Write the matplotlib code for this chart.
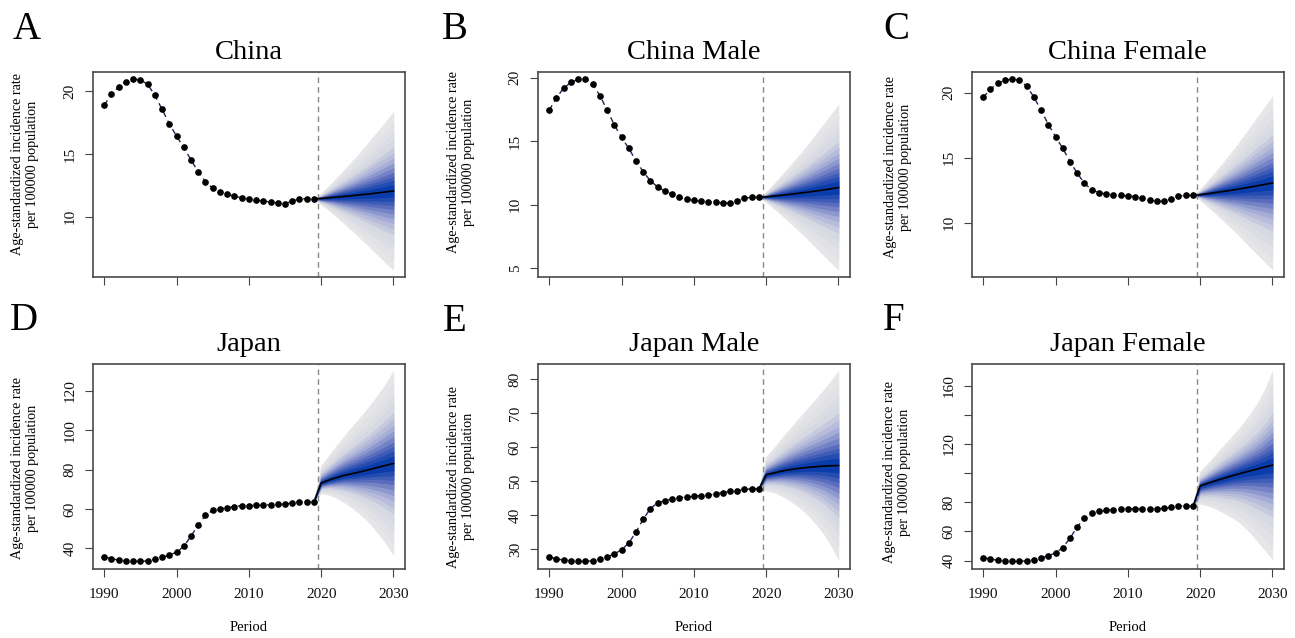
import numpy as np
import matplotlib.pyplot as plt
from matplotlib.colors import LinearSegmentedColormap
from statistics import NormalDist

plt.rcParams['font.family'] = ['Liberation Serif', 'DejaVu Serif']

# observed years and projection years
obs_years = list(range(1990, 2020))
fc_years = list(range(2020, 2031))

# A: China
china_obs = [18.88, 19.73, 20.35, 20.74, 20.93, 20.90, 20.53, 19.65, 18.54, 17.39,
             16.41, 15.51, 14.52, 13.56, 12.79, 12.26, 11.99, 11.81, 11.62, 11.52,
             11.41, 11.33, 11.25, 11.17, 11.09, 11.04, 11.25, 11.41, 11.44, 11.41]
china_mean = [11.46, 11.51, 11.56, 11.61, 11.66, 11.72, 11.78, 11.84, 11.91, 11.98, 12.05]
china_upper = [11.84, 12.42, 13.01, 13.62, 14.23, 14.87, 15.53, 16.23, 16.92, 17.61, 18.33]
china_lower = [10.98, 10.55, 10.06, 9.55, 9.05, 8.52, 7.98, 7.42, 6.86, 6.30, 5.80]

# B: China Male
cmale_obs = [17.45, 18.43, 19.18, 19.63, 19.87, 19.87, 19.50, 18.59, 17.45, 16.28,
             15.30, 14.43, 13.47, 12.59, 11.88, 11.40, 11.08, 10.82, 10.58, 10.42,
             10.34, 10.27, 10.20, 10.18, 10.15, 10.13, 10.31, 10.52, 10.58, 10.58]
cmale_mean = [10.62, 10.68, 10.74, 10.80, 10.87, 10.94, 11.01, 11.09, 11.17, 11.26, 11.35]
cmale_upper = [11.01, 11.62, 12.24, 12.88, 13.54, 14.19, 14.91, 15.64, 16.37, 17.11, 17.85]
cmale_lower = [10.23, 9.74, 9.26, 8.74, 8.23, 7.71, 7.14, 6.57, 6.01, 5.45, 4.90]

# C: China Female
cfem_obs = [19.64, 20.28, 20.72, 20.96, 21.03, 20.96, 20.52, 19.66, 18.66, 17.55,
            16.61, 15.71, 14.70, 13.80, 13.02, 12.51, 12.30, 12.20, 12.14, 12.09,
            12.07, 11.99, 11.86, 11.73, 11.65, 11.63, 11.83, 12.04, 12.09, 12.09]
cfem_mean = [12.15, 12.22, 12.30, 12.38, 12.46, 12.55, 12.64, 12.74, 12.84, 12.94, 13.05]
cfem_upper = [12.55, 13.19, 13.83, 14.51, 15.19, 15.89, 16.64, 17.41, 18.18, 18.94, 19.72]
cfem_lower = [11.75, 11.25, 10.77, 10.25, 9.73, 9.21, 8.64, 8.07, 7.50, 6.94, 6.38]

# D: Japan
japan_obs = [35.8, 34.7, 34.1, 33.7, 33.6, 33.4, 33.7, 34.4, 35.4, 36.6,
             38.1, 41.0, 46.3, 51.9, 56.8, 59.3, 60.0, 60.7, 61.2, 61.7,
             61.7, 61.9, 61.9, 62.2, 62.4, 62.5, 63.1, 63.4, 63.6, 63.6]
japan_mean = [73.2, 74.6, 75.8, 76.9, 77.7, 78.5, 79.4, 80.3, 81.3, 82.2, 83.1]
japan_upper = [82.0, 86.8, 91.5, 96.1, 100.7, 104.8, 109.2, 113.8, 118.6, 124.0, 130.0]
japan_lower = [68.1, 67.3, 65.8, 63.8, 61.4, 58.6, 55.4, 51.6, 47.1, 42.2, 36.8]

# E: Japan Male
jmale_obs = [27.8, 27.2, 26.9, 26.7, 26.5, 26.5, 26.7, 27.2, 27.8, 28.7,
             29.9, 31.9, 35.1, 38.9, 42.0, 43.7, 44.3, 44.8, 45.2, 45.4,
             45.6, 45.8, 45.9, 46.3, 46.7, 47.0, 47.2, 47.6, 47.8, 47.8]
jmale_mean = [51.9, 52.4, 52.9, 53.3, 53.6, 53.9, 54.1, 54.3, 54.45, 54.55, 54.6]
jmale_upper = [57.2, 59.6, 62.2, 64.7, 67.2, 69.6, 72.0, 74.4, 76.9, 79.5, 82.3]
jmale_lower = [47.3, 46.8, 45.9, 44.7, 43.3, 41.6, 39.6, 37.2, 34.5, 31.0, 27.1]

# F: Japan Female
jfem_obs = [42.1, 41.1, 40.2, 39.8, 39.5, 39.5, 40.0, 40.7, 41.8, 43.4,
            45.3, 49.0, 55.4, 63.2, 69.4, 72.6, 73.8, 74.5, 74.9, 75.4,
            75.4, 75.6, 75.6, 75.6, 75.6, 75.9, 76.6, 77.5, 77.5, 77.2]
jfem_mean = [91.3, 93.0, 94.6, 96.1, 97.6, 99.0, 100.4, 101.7, 103.0, 104.3, 105.5]
jfem_upper = [101.1, 106.5, 112.0, 117.5, 123.0, 128.5, 134.5, 141.0, 148.5, 158.0, 170.0]
jfem_lower = [78.9, 77.8, 76.0, 73.5, 70.8, 67.8, 63.8, 58.8, 53.0, 47.0, 41.0]

titles = ['China', 'China Male', 'China Female', 'Japan', 'Japan Male', 'Japan Female']
letters = ['A', 'B', 'C', 'D', 'E', 'F']
yticks = [[10, 15, 20], [5, 10, 15, 20], [10, 15, 20],
          [40, 60, 80, 100, 120], [30, 40, 50, 60, 70, 80],
          [40, 60, 80, 100, 120, 140, 160]]
ytick_labels = [['10', '15', '20'], ['5', '10', '15', '20'], ['10', '15', '20'],
                ['40', '60', '80', '100', '120'], ['30', '40', '50', '60', '70', '80'],
                ['40', '60', '80', '', '120', '', '160']]
xticks = [1990, 2000, 2010, 2020, 2030]

panels = [
    (china_obs, china_mean, china_upper, china_lower),
    (cmale_obs, cmale_mean, cmale_upper, cmale_lower),
    (cfem_obs, cfem_mean, cfem_upper, cfem_lower),
    (japan_obs, japan_mean, japan_upper, japan_lower),
    (jmale_obs, jmale_mean, jmale_upper, jmale_lower),
    (jfem_obs, jfem_mean, jfem_upper, jfem_lower),
]

# fan quantile levels (outer -> inner)
probs = [0.01, 0.022, 0.043, 0.067, 0.10, 0.132, 0.17, 0.208, 0.25, 0.296, 0.338, 0.38, 0.43]
z_out = NormalDist().inv_cdf(0.99)
ratios = [NormalDist().inv_cdf(1 - p) / z_out for p in probs]
fan_cmap = LinearSegmentedColormap.from_list(
    'fan', [(0.0, '#e6e6e8'), (0.25, '#d6d8e2'), (0.5, '#a6aed6'),
            (0.75, '#5b6dbd'), (1.0, '#0a3dab')])
fan_cols = fan_cmap(np.linspace(0, 1, len(probs)))

W, H = 1295, 638
fig = plt.figure(figsize=(W / 100, H / 100), dpi=100)

lefts = [92.7, 537.7, 971.7]
width = 312.3
tops = [71.7, 363.5]
height = 205.5
label_x = [-0.172, -0.202, -0.192, -0.172, -0.202, -0.195]
label_y = [0.55, 0.56, 0.535, 0.49, 0.45, 0.47]
letter_pos = [(13, 39), (442, 39), (883, 39), (10, 330), (443, 331), (883, 330)]

for i, (obs, mean, upper, lower) in enumerate(panels):
    row, col = divmod(i, 3)
    ax = fig.add_axes([lefts[col] / W, 1 - (tops[row] + height) / H, width / W, height / H])

    # projection fan, starting from the last observed value
    x = np.array([obs_years[-1]] + fc_years)
    m = np.array([obs[-1]] + mean)
    up = np.array([obs[-1]] + upper)
    lo = np.array([obs[-1]] + lower)
    for r, c in zip(ratios, fan_cols):
        ax.fill_between(x, m - r * (m - lo), m + r * (up - m), facecolor=c,
                        edgecolor=c, lw=0.4, zorder=1)
    ax.plot(x, m, color='black', lw=1.2, zorder=3)

    # observed series
    ax.plot(obs_years, obs, color='#1c2850', lw=1, dashes=(4, 3), zorder=2)
    ax.plot(obs_years, obs, 'o', color='black', ms=3.8, zorder=4)
    ax.axvline(2019.5, color='#888888', lw=1, dashes=(4, 3), zorder=2)

    ax.margins(x=0.04, y=0.04)
    ax.set_xticks(xticks)
    ax.set_yticks(yticks[i])
    ax.set_yticklabels(ytick_labels[i], rotation=90, va='center')
    if row == 1:
        ax.set_xticklabels([str(t) for t in xticks])
        ax.set_xlabel('Period', fontsize=10.5)
        ax.xaxis.set_label_coords(0.5, -0.255)
    else:
        ax.set_xticklabels([])
    ax.tick_params(direction='out', length=5.5, width=0.8, color='#444444',
                   labelsize=11, labelcolor='#111111')
    ax.tick_params(axis='x', pad=8)
    ax.tick_params(axis='y', pad=6)
    for s in ax.spines.values():
        s.set_color('#4a4a4a')
        s.set_linewidth(1.2)

    ax.set_title(titles[i], fontsize=20.5, pad=9)
    ax.set_ylabel('Age-standardized incidence rate\nper 100000 population', fontsize=10.2,
                  linespacing=1.2)
    ax.yaxis.set_label_coords(label_x[i], label_y[i])

    lx, ly = letter_pos[i]
    fig.text(lx / W, 1 - ly / H, letters[i], fontsize=28, ha='left', va='baseline')

fig.savefig('out.png', dpi=100)
